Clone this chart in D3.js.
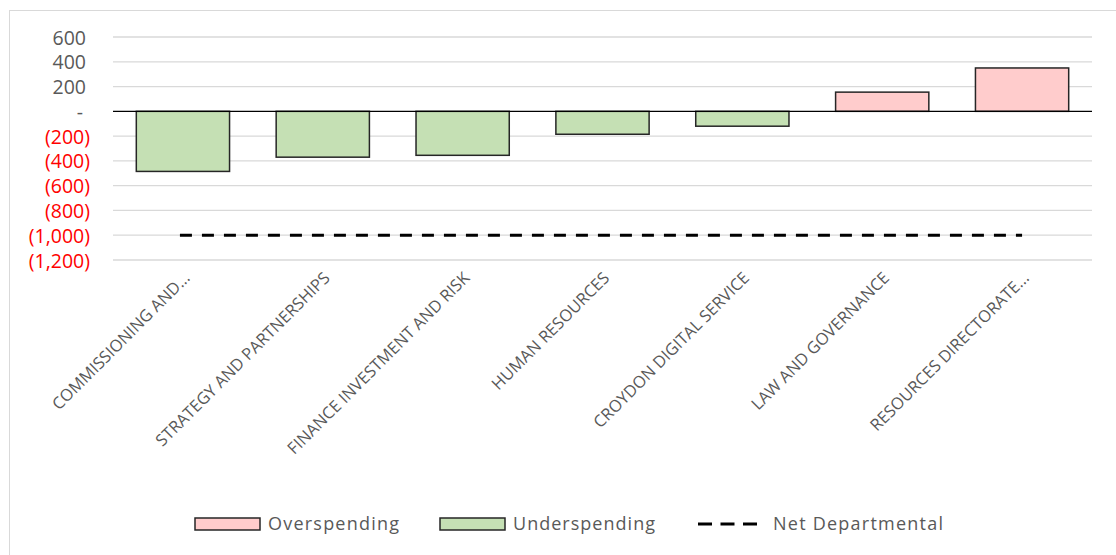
<!DOCTYPE html>
<html>
<head>
<meta charset="utf-8">
<script src="https://cdn.jsdelivr.net/npm/d3@7"></script>
<style>
  body { margin: 0; background: #fff; }
  text { font-family: "Open Sans", "Noto Sans", sans-serif; }
</style>
</head>
<body>
<div id="chart"></div>
<script>
const categories = [
    "COMMISSIONING AND...",
    "STRATEGY AND PARTNERSHIPS",
    "FINANCE INVESTMENT AND RISK",
    "HUMAN RESOURCES",
    "CROYDON DIGITAL SERVICE",
    "LAW AND GOVERNANCE",
    "RESOURCES DIRECTORATE..."
];
const variance = [-485, -370, -355, -185, -120, 155, 350];
const netDepartmental = -1000;
const yTicks = [600, 400, 200, 0, -200, -400, -600, -800, -1000, -1200];

const width = 1116;
const height = 555;
const margin = { top: 37, right: 24, bottom: 295, left: 113 };

const svg = d3.select("#chart")
    .append("svg")
    .attr("width", width)
    .attr("height", height);

// chart frame
svg.append("rect")
    .attr("x", 9.5)
    .attr("y", 10.5)
    .attr("width", width + 20)
    .attr("height", height + 20)
    .attr("fill", "none")
    .attr("stroke", "#d9d9d9");

const x = d3.scaleBand()
    .domain(categories)
    .range([margin.left, width - margin.right])
    .paddingInner(1 / 3)
    .paddingOuter(1 / 6);

const y = d3.scaleLinear()
    .domain([-1200, 600])
    .range([height - margin.bottom, margin.top]);

const fmt = d => d === 0 ? "-" : d < 0 ? `(${d3.format(",")(-d)})` : d3.format(",")(d);

// gridlines
svg.append("g")
    .selectAll("line")
    .data(yTicks.filter(d => d !== 0))
    .enter().append("line")
    .attr("x1", margin.left)
    .attr("x2", width - margin.right)
    .attr("y1", d => y(d))
    .attr("y2", d => y(d))
    .attr("stroke", "#d9d9d9")
    .attr("stroke-width", 1.3);

// y labels
const yAxis = svg.append("g")
    .attr("transform", `translate(${margin.left - 23},0)`)
    .call(d3.axisLeft(y).tickValues(yTicks).tickFormat(fmt).tickSize(0).tickPadding(0));
yAxis.select(".domain").remove();
yAxis.selectAll("text")
    .style("font-family", "'Open Sans', sans-serif")
    .style("font-size", "19.5px")
    .attr("fill", d => d < 0 ? "#ff0000" : "#595959")
    .attr("dx", d => d > 0 ? -4 : d === 0 ? -7 : 0)
    .attr("dy", "0.36em");

// bars
svg.append("g")
    .selectAll("rect")
    .data(categories)
    .enter().append("rect")
    .attr("x", d => x(d))
    .attr("width", x.bandwidth())
    .attr("y", (d, i) => y(Math.max(0, variance[i])))
    .attr("height", (d, i) => Math.abs(y(variance[i]) - y(0)))
    .attr("fill", (d, i) => variance[i] >= 0 ? "#ffcccc" : "#c5e0b4")
    .attr("stroke", "#262626")
    .attr("stroke-width", 1.5);

// zero line
svg.append("line")
    .attr("x1", margin.left)
    .attr("x2", width - margin.right)
    .attr("y1", y(0))
    .attr("y2", y(0))
    .attr("stroke", "#000")
    .attr("stroke-width", 1.3);

// net departmental line
svg.append("line")
    .attr("x1", x(categories[0]) + x.bandwidth() / 2 - 3)
    .attr("x2", x(categories[categories.length - 1]) + x.bandwidth() / 2)
    .attr("y1", y(netDepartmental))
    .attr("y2", y(netDepartmental))
    .attr("stroke", "#000")
    .attr("stroke-width", 3)
    .attr("stroke-dasharray", "12,10");

// category labels
svg.append("g")
    .selectAll("text")
    .data(categories)
    .enter().append("text")
    .attr("transform", d => `translate(${x(d) + x.bandwidth() / 2 + 8},${height - margin.bottom + 19}) rotate(-45)`)
    .attr("text-anchor", "end")
    .attr("fill", "#595959")
    .style("font-size", "16.5px")
    .text(d => d);

// legend
const legend = svg.append("g").attr("transform", "translate(0,524)");
const legendItems = [
    { label: "Overspending", fill: "#ffcccc", x: 195, len: 131 },
    { label: "Underspending", fill: "#c5e0b4", x: 440, len: 142 }
];
legend.selectAll(".legend-item")
    .data(legendItems)
    .enter().append("g")
    .attr("class", "legend-item")
    .attr("transform", d => `translate(${d.x},0)`);
legend.selectAll(".legend-item")
    .append("rect")
    .attr("y", -6)
    .attr("width", 65)
    .attr("height", 12)
    .attr("fill", d => d.fill)
    .attr("stroke", "#262626")
    .attr("stroke-width", 1.5);
legend.selectAll(".legend-item")
    .append("text")
    .attr("x", 73)
    .attr("dy", "0.36em")
    .attr("fill", "#595959")
    .style("font-size", "18px")
    .attr("textLength", d => d.len)
    .attr("lengthAdjust", "spacing")
    .text(d => d.label);

legend.append("line")
    .attr("x1", 698)
    .attr("x2", 757)
    .attr("stroke", "#000")
    .attr("stroke-width", 3)
    .attr("stroke-dasharray", "14,8.5");
legend.append("text")
    .attr("x", 773)
    .attr("dy", "0.36em")
    .attr("fill", "#595959")
    .style("font-size", "18px")
    .attr("textLength", 170)
    .attr("lengthAdjust", "spacing")
    .text("Net Departmental");
</script>
</body>
</html>
